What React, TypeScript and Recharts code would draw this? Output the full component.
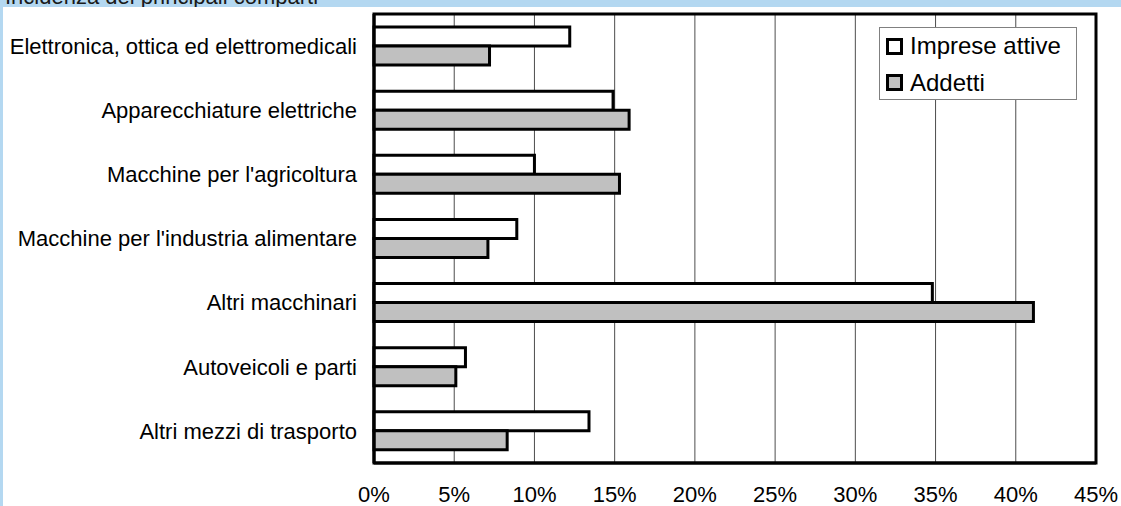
import {
  BarChart,
  Bar,
  XAxis,
  YAxis,
  CartesianGrid,
  Legend,
  ReferenceArea,
} from "recharts";

const categories = [
  "Elettronica, ottica ed elettromedicali",
  "Apparecchiature elettriche",
  "Macchine per l'agricoltura",
  "Macchine per l'industria alimentare",
  "Altri macchinari",
  "Autoveicoli e parti",
  "Altri mezzi di trasporto",
];

const impreseAttive = [12.2, 14.9, 10.0, 8.9, 34.8, 5.7, 13.4];
const addetti = [7.2, 15.9, 15.3, 7.1, 41.1, 5.1, 8.3];

const xTicks = [0, 5, 10, 15, 20, 25, 30, 35, 40, 45];
const edgeTicks = [0, 1, 2, 3, 4, 5, 6, 7];

const seriesNames = ["Imprese attive", "Addetti"];
const seriesFills = ["#ffffff", "#c0c0c0"];

const data = categories.map((name, i) => ({
  name,
  imprese: impreseAttive[i],
  addetti: addetti[i],
}));

const font = '"Liberation Sans", Arial, sans-serif';

const renderLegend = () => (
  <div
    style={{
      width: 198,
      height: 73,
      boxSizing: "border-box",
      border: "1px solid #808080",
      background: "#fff",
      fontFamily: font,
    }}
  >
    {seriesNames.map((n, i) => (
      <div
        key={n}
        style={{ display: "flex", alignItems: "center", height: 36.5, paddingLeft: 6 }}
      >
        <span
          style={{
            width: 17,
            height: 17,
            boxSizing: "border-box",
            border: "3px solid #000",
            background: seriesFills[i],
            marginRight: 7,
          }}
        />
        <span style={{ fontSize: 24, color: "#000" }}>{n}</span>
      </div>
    ))}
  </div>
);

const App = () => {
  return (
    <div
      style={{
        position: "fixed",
        left: 0,
        top: 0,
        width: 1121,
        height: 506,
        background: "#fff",
        overflow: "hidden",
        fontFamily: font,
      }}
    >
      <BarChart
        width={1121}
        height={506}
        data={data}
        layout="vertical"
        margin={{ top: 14, right: 25, bottom: 0, left: 0 }}
        barGap={0}
        barSize={19}
      >
        <CartesianGrid horizontal={false} stroke="#4d4d4d" strokeWidth={1} />
        <XAxis
          type="number"
          domain={[0, 45]}
          ticks={xTicks}
          tickFormatter={(v) => `${v}%`}
          height={43}
          tickSize={0}
          tickMargin={23}
          tickLine={false}
          axisLine={{ stroke: "#000", strokeWidth: 3 }}
          tick={{ fill: "#000", fontSize: 22, fontFamily: font }}
        />
        <YAxis
          type="category"
          dataKey="name"
          width={374}
          tickSize={0}
          tickMargin={17}
          tickLine={false}
          axisLine={{ stroke: "#000", strokeWidth: 3 }}
          tick={{ fill: "#000", fontSize: 22, fontFamily: font }}
        />
        <YAxis
          yAxisId="edges"
          type="number"
          domain={[0, 7]}
          ticks={edgeTicks}
          width={0}
          tick={false}
          tickSize={8}
          axisLine={false}
          tickLine={{ stroke: "#808080", strokeWidth: 1 }}
        />
        <ReferenceArea x1={0} x2={45} fill="none" stroke="#000" strokeWidth={3} />
        <Bar
          dataKey="imprese"
          name={seriesNames[0]}
          fill={seriesFills[0]}
          stroke="#000"
          strokeWidth={3}
          isAnimationActive={false}
        />
        <Bar
          dataKey="addetti"
          name={seriesNames[1]}
          fill={seriesFills[1]}
          stroke="#000"
          strokeWidth={3}
          isAnimationActive={false}
        />
        <Legend
          layout="vertical"
          align="center"
          verticalAlign="middle"
          content={renderLegend}
          wrapperStyle={{ top: 27, left: 879, width: 198, height: 73 }}
        />
      </BarChart>
      <div
        style={{
          position: "absolute",
          left: 0,
          top: 0,
          width: 1121,
          height: 7,
          background: "#b4d8f1",
          overflow: "hidden",
        }}
      >
        <div
          style={{
            position: "absolute",
            left: 5,
            top: -14,
            fontSize: 22,
            lineHeight: "22px",
            color: "#1a1a1a",
            whiteSpace: "nowrap",
          }}
        >
          Incidenza dei principali comparti
        </div>
      </div>
      <div
        style={{
          position: "absolute",
          left: 0,
          top: 0,
          width: 3,
          height: 506,
          background: "#b4d8f1",
        }}
      />
    </div>
  );
};

export default App;
